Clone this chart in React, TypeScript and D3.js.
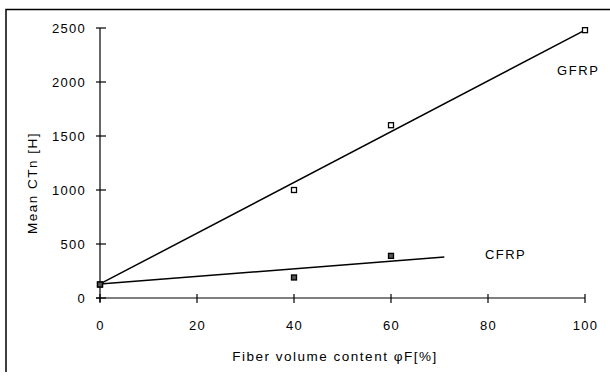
import React, { useEffect, useRef } from 'react';
import * as d3 from 'd3';

// measured points
const fiberContent = [0, 40, 60, 100];
const gfrpValues = [125, 1000, 1600, 2480];
const cfrpContent = [0, 40, 60];
const cfrpValues = [125, 190, 390];

// fitted lines (start / end)
const gfrpFitX = [0, 100];
const gfrpFitY = [130, 2480];
const cfrpFitX = [0, 71];
const cfrpFitY = [130, 380];

const xTicks = [0, 20, 40, 60, 80, 100];
const yTicks = [0, 500, 1000, 1500, 2000, 2500];

const App = () => {
  const chartRef = useRef<SVGSVGElement>(null);

  useEffect(() => {
    const svg = d3.select(chartRef.current);
    svg.selectAll('*').remove();

    const font = 'Liberation Sans, Arial, sans-serif';

    const x = d3.scaleLinear().domain([0, 100]).range([100, 585]);
    const y = d3.scaleLinear().domain([0, 2500]).range([298, 28]);

    // outer frame (left and top only)
    svg.append('path')
      .attr('d', 'M6,372 L6,9.5 L610,9.5')
      .attr('fill', 'none')
      .attr('stroke', '#000')
      .attr('stroke-width', 1.5);

    // y axis
    svg.append('line')
      .attr('x1', x(0)).attr('x2', x(0))
      .attr('y1', y(2500)).attr('y2', y(0) + 4)
      .attr('stroke', '#000').attr('stroke-width', 1.2);
    svg.selectAll('.ytick')
      .data(yTicks)
      .enter()
      .append('line')
      .attr('x1', x(0) - 4).attr('x2', x(0) + 6)
      .attr('y1', d => y(d)).attr('y2', d => y(d))
      .attr('stroke', '#000').attr('stroke-width', 1.2);
    svg.selectAll('.ylab')
      .data(yTicks)
      .enter()
      .append('text')
      .attr('x', 86)
      .attr('y', d => y(d) + 4.5)
      .attr('text-anchor', 'end')
      .attr('font-family', font)
      .attr('font-size', 13)
      .attr('letter-spacing', 1.3)
      .text(d => d);

    // x axis
    svg.append('line')
      .attr('x1', x(0) - 4).attr('x2', x(100))
      .attr('y1', y(0)).attr('y2', y(0))
      .attr('stroke', '#000').attr('stroke-width', 1.2);
    svg.selectAll('.xtick')
      .data(xTicks)
      .enter()
      .append('line')
      .attr('x1', d => x(d)).attr('x2', d => x(d))
      .attr('y1', y(0) - 4).attr('y2', y(0) + 5)
      .attr('stroke', '#000').attr('stroke-width', 1.2);
    svg.selectAll('.xlab')
      .data(xTicks)
      .enter()
      .append('text')
      .attr('x', d => x(d) + 0.6)
      .attr('y', 330)
      .attr('text-anchor', 'middle')
      .attr('font-family', font)
      .attr('font-size', 13)
      .attr('letter-spacing', 1.3)
      .text(d => d);

    // axis titles
    svg.append('text')
      .attr('x', 335)
      .attr('y', 361)
      .attr('text-anchor', 'middle')
      .attr('font-family', font)
      .attr('font-size', 13.5)
      .attr('letter-spacing', 1.5)
      .text('Fiber volume content \u03c6F[%]');
    svg.append('text')
      .attr('transform', 'translate(37,183) rotate(-90)')
      .attr('text-anchor', 'middle')
      .attr('font-family', font)
      .attr('font-size', 13.5)
      .attr('letter-spacing', 1.5)
      .text('Mean CTn [H]');

    // fit lines
    const line = d3.line<[number, number]>()
      .x(d => x(d[0]))
      .y(d => y(d[1]));
    svg.append('path')
      .datum(d3.zip(gfrpFitX, gfrpFitY) as [number, number][])
      .attr('fill', 'none')
      .attr('stroke', '#000')
      .attr('stroke-width', 1.5)
      .attr('d', line);
    svg.append('path')
      .datum(d3.zip(cfrpFitX, cfrpFitY) as [number, number][])
      .attr('fill', 'none')
      .attr('stroke', '#000')
      .attr('stroke-width', 1.5)
      .attr('d', line);

    // markers
    const s = 5;
    svg.selectAll('.gpt')
      .data(d3.zip(fiberContent, gfrpValues))
      .enter()
      .append('rect')
      .attr('x', d => x(d[0]) - s / 2)
      .attr('y', d => y(d[1]) - s / 2)
      .attr('width', s).attr('height', s)
      .attr('fill', '#fff')
      .attr('stroke', '#000')
      .attr('stroke-width', 1.3);
    svg.selectAll('.cpt')
      .data(d3.zip(cfrpContent, cfrpValues))
      .enter()
      .append('rect')
      .attr('x', d => x(d[0]) - s / 2)
      .attr('y', d => y(d[1]) - s / 2)
      .attr('width', s).attr('height', s)
      .attr('fill', '#555')
      .attr('stroke', '#000')
      .attr('stroke-width', 1.3);

    // series labels
    svg.append('text')
      .attr('x', 557).attr('y', 75)
      .attr('font-family', font).attr('font-size', 13)
      .attr('letter-spacing', 1.6)
      .text('GFRP');
    svg.append('text')
      .attr('x', 485).attr('y', 259)
      .attr('font-family', font).attr('font-size', 13)
      .attr('letter-spacing', 1.4)
      .text('CFRP');
  }, []);

  return (
    <svg
      ref={chartRef}
      width={610}
      height={376}
      style={{ position: 'absolute', left: 0, top: 0, background: '#fff' }}
    />
  );
};

export default App;
